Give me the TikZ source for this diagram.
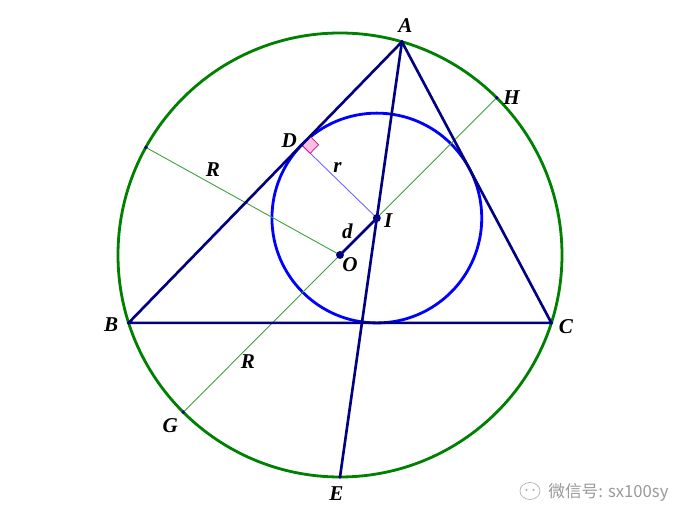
\documentclass[tikz,border=0pt]{standalone}
\usepackage{fontspec}
\setmainfont{Liberation Serif}
\newfontfamily\cjkfont{Noto Sans CJK SC}
\usetikzlibrary{calc}
\definecolor{circgreen}{RGB}{0,128,0}
\definecolor{trinavy}{RGB}{0,0,128}
\definecolor{thingreen}{RGB}{60,160,60}
\tikzset{
  lab/.style={font=\fontsize{12}{14}\selectfont\bfseries\itshape,inner sep=0pt},
  bigdot/.style={circle,fill=trinavy,inner sep=0pt,minimum size=4.5pt},
  smalldot/.style={circle,fill=trinavy,inner sep=0pt,minimum size=2.2pt}
}
\begin{document}
\begin{tikzpicture}
            \useasboundingbox (-6.8,-5.36) rectangle (7.02,5.1);
            \def\R{4.44} \def\r{2.098}
            \coordinate (O) at (0,0);
            \coordinate (A) at (73.8:\R);
            \coordinate (B) at (197.8:\R);
            \coordinate (C) at (-17.8:\R);
            \coordinate (E) at (270:\R);
            \coordinate (H) at (45.1:\R);
            \coordinate (G) at (225.1:\R);
            \coordinate (L) at (151:\R);
            \coordinate (I) at (0.737,0.739);
            \coordinate (D) at ($(A)!(I)!(B)$);
            \coordinate (Da) at ($(D)!0.24cm!(A)$);
            \coordinate (Di) at ($(D)!0.24cm!(I)$);
            % circles
            \draw [circgreen,line width=1.6pt](O) circle (\R);
            \draw [blue,line width=1.6pt](I) circle (\r);
            % thin lines
            \draw [thingreen,line width=0.5pt](L)--(O) (G)--(H);
            \draw [blue!60,line width=0.5pt](D)--(I);
            \filldraw [magenta,fill=magenta!25,line width=0.4pt](D)--(Da)--($(Da)+(Di)-(D)$)--(Di)--cycle;
            % triangle
            \draw [trinavy,line width=1.5pt,line join=round](A)--(B)--(C)--cycle;
            \draw [trinavy,line width=1.5pt](A)--(E) (O)--(I);
            \foreach \p in {A,B,C,D,E,G,H,L} \node[smalldot] (dot\p) at (\p) {};
            \node[bigdot] (dotO) at (O) {};
            \node[bigdot] (dotI) at (I) {};
            % labels
            \node[lab] (labA) at ($(A)+(0.07,0.33)$) {A};
            \node[lab] (labB) at ($(B)+(-0.35,-0.03)$) {B};
            \node[lab] (labC) at ($(C)+(0.29,-0.08)$) {C};
            \node[lab] (labD) at ($(D)+(-0.25,0.08)$) {D};
            \node[lab] (labE) at ($(E)+(-0.07,-0.33)$) {E};
            \node[lab] (labG) at ($(G)+(-0.26,-0.26)$) {G};
            \node[lab] (labH) at ($(H)+(0.3,0)$) {H};
            \node[lab] (labI) at ($(I)+(0.23,-0.06)$) {I};
            \node[lab] (labO) at ($(O)+(0.2,-0.19)$) {O};
            \node[lab] (labd) at (0.15,0.47) {d};
            \node[lab] (labr) at (-0.05,1.75) {r};
            \node[lab] (labR1) at (-2.54,1.7) {R};
            \node[lab] (labR2) at (-1.84,-2.14) {R};
            % watermark
            \draw [gray!60,line width=0.4pt](3.8,-4.72) ellipse (0.2 and 0.17);
            \fill [gray!60](3.73,-4.7) circle (0.025) (3.87,-4.7) circle (0.025);
            \node[anchor=west,inner sep=0pt,text=gray!80,font=\cjkfont\fontsize{9.5}{11}\selectfont] (wm) at (4.16,-4.74) {微信号: sx100sy};
        \end{tikzpicture}
\end{document}
